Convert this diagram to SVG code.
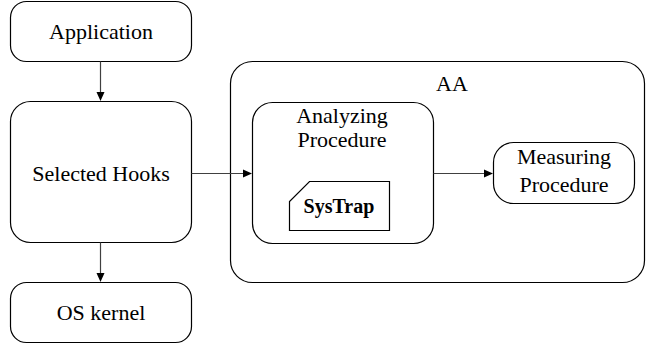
<svg xmlns="http://www.w3.org/2000/svg" width="646" height="345" viewBox="0 0 646 345">
<rect width="646" height="345" fill="#fff"/>
<g id="application">
<rect x="10.5" y="1.5" width="181" height="60" rx="16" fill="#fff" stroke="#000" stroke-width="1.2"/>
<text x="101" y="39" font-family="Liberation Serif, Times New Roman, serif" font-size="22" text-anchor="middle">Application</text>
</g>
<g id="selected-hooks">
<rect x="10.5" y="101.5" width="181" height="141" rx="20" fill="#fff" stroke="#000" stroke-width="1.2"/>
<text x="101" y="181" font-family="Liberation Serif, Times New Roman, serif" font-size="22" text-anchor="middle">Selected Hooks</text>
</g>
<g id="os-kernel">
<rect x="10.5" y="282.5" width="181" height="60" rx="16" fill="#fff" stroke="#000" stroke-width="1.2"/>
<text x="101" y="320" font-family="Liberation Serif, Times New Roman, serif" font-size="22" text-anchor="middle">OS kernel</text>
</g>
<g id="aa">
<rect x="230.5" y="61.5" width="414" height="221" rx="22" fill="#fff" stroke="#000" stroke-width="1.2"/>
<text x="452" y="91" font-family="Liberation Serif, Times New Roman, serif" font-size="22" text-anchor="middle">AA</text>
</g>
<g id="analyzing">
<rect x="252.5" y="102.5" width="181" height="141" rx="20" fill="#fff" stroke="#000" stroke-width="1.2"/>
<text x="342" y="123" font-family="Liberation Serif, Times New Roman, serif" font-size="22" text-anchor="middle">Analyzing</text>
<text x="342" y="147" font-family="Liberation Serif, Times New Roman, serif" font-size="22" text-anchor="middle">Procedure</text>
</g>
<g id="systrap">
<path d="M309.5,181.5 L389.5,181.5 L389.5,230.5 L289.5,230.5 L289.5,201.5 Z" fill="#fff" stroke="#000" stroke-width="1.2"/>
<text x="339" y="213" font-family="Liberation Serif, Times New Roman, serif" font-size="20" font-weight="bold" text-anchor="middle">SysTrap</text>
</g>
<g id="measuring">
<rect x="493.5" y="142.5" width="141" height="61" rx="20" fill="#fff" stroke="#000" stroke-width="1.2"/>
<text x="564" y="164" font-family="Liberation Serif, Times New Roman, serif" font-size="22" text-anchor="middle">Measuring</text>
<text x="564" y="192" font-family="Liberation Serif, Times New Roman, serif" font-size="22" text-anchor="middle">Procedure</text>
</g>
<g id="connectors" stroke="#404040" stroke-width="1.2">
<line x1="100.5" y1="61.5" x2="100.5" y2="92"/>
<polygon points="96.5,92 104.5,92 100.5,101" fill="#000" stroke="none"/>
<line x1="100.5" y1="242.5" x2="100.5" y2="273"/>
<polygon points="96.5,273 104.5,273 100.5,282" fill="#000" stroke="none"/>
<line x1="191.5" y1="173.5" x2="243" y2="173.5"/>
<polygon points="243,169.5 243,177.5 252,173.5" fill="#000" stroke="none"/>
<line x1="433.5" y1="173.5" x2="484" y2="173.5"/>
<polygon points="484,169.5 484,177.5 493,173.5" fill="#000" stroke="none"/>
</g>
</svg>
